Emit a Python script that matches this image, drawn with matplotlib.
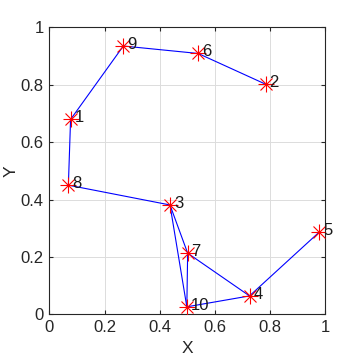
import matplotlib
matplotlib.use("Agg")
import matplotlib.pyplot as plt

ids = [1, 2, 3, 4, 5, 6, 7, 8, 9, 10]
xs = [0.077, 0.783, 0.437, 0.725, 0.977, 0.539, 0.501, 0.069, 0.268, 0.498]
ys = [0.679, 0.802, 0.381, 0.064, 0.286, 0.909, 0.213, 0.450, 0.935, 0.026]
edges = [(2, 6), (6, 9), (9, 1), (1, 8), (8, 3), (3, 7), (3, 10), (7, 10),
         (7, 4), (10, 4), (4, 5)]

plt.rcParams['font.family'] = ['Liberation Sans', 'DejaVu Sans']
fig = plt.figure(figsize=(3.6, 3.6), dpi=100)
ax = fig.add_axes([0.137, 0.127, 0.767, 0.797])

pos = {i: (x, y) for i, x, y in zip(ids, xs, ys)}
for a, b in edges:
    ax.plot([pos[a][0], pos[b][0]], [pos[a][1], pos[b][1]], color='blue', lw=0.8, zorder=2)
ax.plot(xs, ys, linestyle='none', marker='+', color='red', markersize=11, mew=0.8, zorder=3)
ax.plot(xs, ys, linestyle='none', marker='x', color='red', markersize=8, mew=0.8, zorder=3)
for i, x, y in zip(ids, xs, ys):
    ax.text(x + 0.014, y + 0.006, str(i), fontsize=12, color='#1a1a1a', va='center', ha='left', zorder=4)

ax.set_xlim(0, 1)
ax.set_ylim(0, 1)
ax.set_xticks([0, 0.2, 0.4, 0.6, 0.8, 1])
ax.set_xticklabels(['0', '0.2', '0.4', '0.6', '0.8', '1'])
ax.set_yticks([0, 0.2, 0.4, 0.6, 0.8, 1])
ax.set_yticklabels(['0', '0.2', '0.4', '0.6', '0.8', '1'])
ax.grid(True, color='#dcdcdc', lw=0.7)
ax.set_axisbelow(True)
ax.tick_params(direction='in', length=3, labelsize=12, colors='#262626', top=True, right=True, pad=4)
for s in ax.spines.values():
    s.set_color('#262626')
    s.set_linewidth(0.8)
ax.set_xlabel('X', fontsize=12.5, color='#262626')
ax.set_ylabel('Y', fontsize=12.5, color='#262626')
ax.xaxis.set_label_coords(0.5, -0.12)
ax.yaxis.set_label_coords(-0.138, 0.5)
ax.xaxis.label.set_va('center')
ax.yaxis.label.set_va('center')
fig.savefig('out.png', dpi=100)
